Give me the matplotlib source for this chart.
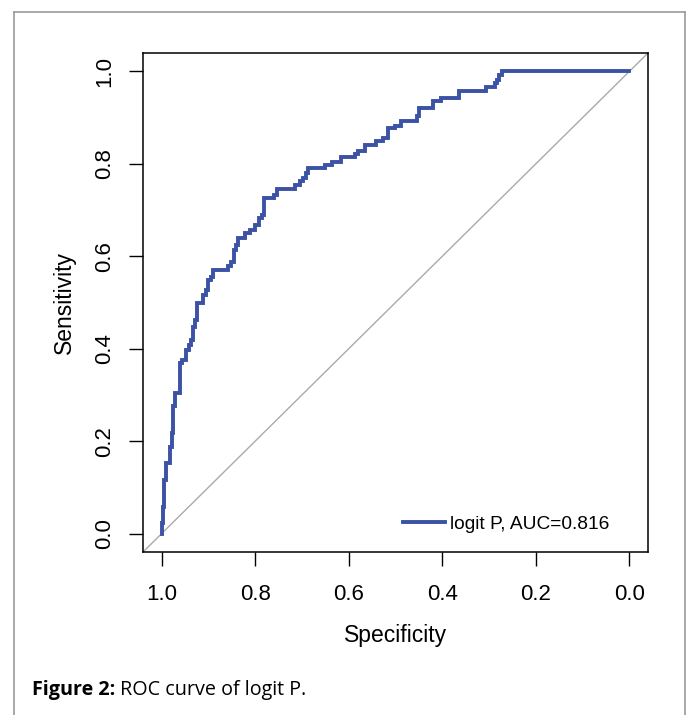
import matplotlib
matplotlib.use("Agg")
import matplotlib.pyplot as plt
from matplotlib.lines import Line2D

# ---- data ----
specificity = [1.000, 1.000, 0.997, 0.997, 0.995, 0.995, 0.990, 0.990, 0.983, 0.983,
               0.979, 0.979, 0.976, 0.976, 0.972, 0.972, 0.960, 0.960, 0.956, 0.956,
               0.947, 0.947, 0.942, 0.942, 0.938, 0.938, 0.933, 0.933, 0.929, 0.929,
               0.924, 0.924, 0.911, 0.911, 0.906, 0.906, 0.901, 0.901, 0.895, 0.895,
               0.890, 0.890, 0.859, 0.859, 0.852, 0.852, 0.846, 0.846, 0.841, 0.841,
               0.836, 0.836, 0.821, 0.821, 0.812, 0.812, 0.800, 0.800, 0.792, 0.792,
               0.786, 0.786, 0.782, 0.782, 0.760, 0.760, 0.754, 0.754, 0.714, 0.714,
               0.705, 0.705, 0.697, 0.697, 0.692, 0.692, 0.688, 0.688, 0.650, 0.650,
               0.636, 0.636, 0.617, 0.617, 0.587, 0.587, 0.580, 0.580, 0.576, 0.576,
               0.566, 0.566, 0.541, 0.541, 0.527, 0.527, 0.517, 0.517, 0.502, 0.502,
               0.489, 0.489, 0.455, 0.455, 0.449, 0.449, 0.420, 0.420, 0.402, 0.402,
               0.364, 0.364, 0.306, 0.306, 0.288, 0.288, 0.282, 0.282, 0.278, 0.278,
               0.272, 0.272, 0.000]
sensitivity = [0.000, 0.022, 0.022, 0.058, 0.058, 0.116, 0.116, 0.152, 0.152, 0.188,
               0.188, 0.217, 0.217, 0.275, 0.275, 0.304, 0.304, 0.369, 0.369, 0.376,
               0.376, 0.397, 0.397, 0.408, 0.408, 0.419, 0.419, 0.448, 0.448, 0.462,
               0.462, 0.500, 0.500, 0.516, 0.516, 0.527, 0.527, 0.549, 0.549, 0.556,
               0.556, 0.571, 0.571, 0.579, 0.579, 0.587, 0.587, 0.614, 0.614, 0.625,
               0.625, 0.639, 0.639, 0.651, 0.651, 0.657, 0.657, 0.668, 0.668, 0.683,
               0.683, 0.690, 0.690, 0.726, 0.726, 0.733, 0.733, 0.745, 0.745, 0.755,
               0.755, 0.762, 0.762, 0.769, 0.769, 0.780, 0.780, 0.791, 0.791, 0.798,
               0.798, 0.805, 0.805, 0.815, 0.815, 0.822, 0.822, 0.827, 0.827, 0.827,
               0.827, 0.841, 0.841, 0.850, 0.850, 0.856, 0.856, 0.877, 0.877, 0.883,
               0.883, 0.893, 0.893, 0.903, 0.903, 0.921, 0.921, 0.937, 0.937, 0.942,
               0.942, 0.957, 0.957, 0.967, 0.967, 0.975, 0.975, 0.982, 0.982, 0.993,
               0.993, 1.000, 1.000]
tick_values = [1.0, 0.8, 0.6, 0.4, 0.2, 0.0]
tick_labels = ["1.0", "0.8", "0.6", "0.4", "0.2", "0.0"]
legend_label = "logit P, AUC=0.816"
x_label = "Specificity"
y_label = "Sensitivity"
caption_bold = "Figure 2:"
caption_rest = " ROC curve of logit P."

W, H = 686, 715
fig = plt.figure(figsize=(W / 100, H / 100), dpi=100)
fig.patch.set_facecolor("white")

# outer frame (gray), open at bottom
fc = "#9a9a9a"
def fx(px): return px / W
def fy(py): return 1 - py / H
fig.add_artist(Line2D([fx(14), fx(14)], [fy(12), fy(715)], color=fc, lw=1.2, transform=fig.transFigure))
fig.add_artist(Line2D([fx(14), fx(685)], [fy(12), fy(12)], color=fc, lw=1.2, transform=fig.transFigure))
fig.add_artist(Line2D([fx(685), fx(685)], [fy(12), fy(715)], color=fc, lw=1.2, transform=fig.transFigure))

ax = fig.add_axes([143 / W, (H - 552) / H, 505 / W, 499 / H])
ax.set_xlim(1.04, -0.04)
ax.set_ylim(-0.04, 1.04)

# diagonal reference line
ax.plot([1.04, -0.04], [-0.04, 1.04], color="#aaaaaa", lw=1.0, zorder=1)
ax.plot(specificity, sensitivity, color="#3B52A5", lw=2.8, zorder=3,
        solid_joinstyle="miter", label=legend_label)

font = "Liberation Sans"
ax.set_xticks(tick_values)
ax.set_xticklabels(tick_labels, fontsize=16, family=font)
ax.set_yticks(tick_values)
ax.set_yticklabels(tick_labels, fontsize=16, family=font, rotation=90, va="center")
ax.tick_params(axis="x", direction="out", length=10, width=1.0, pad=13, colors="black")
ax.tick_params(axis="y", direction="out", length=10, width=1.0, pad=10, colors="black")
for s in ax.spines.values():
    s.set_linewidth(1.1)
ax.set_xlabel(x_label, fontsize=16.5, family=font, labelpad=14)
ax.set_ylabel(y_label, fontsize=16.5, family=font, labelpad=13)

leg = ax.legend(loc="lower right", frameon=False, handlelength=2.2, handletextpad=0.25,
                prop={"family": font, "size": 13.8}, borderaxespad=0.6,
                bbox_to_anchor=(0.962, 0.0))

# caption
t1 = fig.text(fx(32), fy(690), caption_bold, fontsize=14.2, family="Open Sans",
              fontweight="bold", va="center", ha="left")
fig.canvas.draw()
bb = t1.get_window_extent()
fig.text(bb.x1 / W, fy(690), caption_rest, fontsize=14.2, family="Open Sans",
         va="center", ha="left")

fig.savefig("out.png", dpi=100, facecolor="white")
